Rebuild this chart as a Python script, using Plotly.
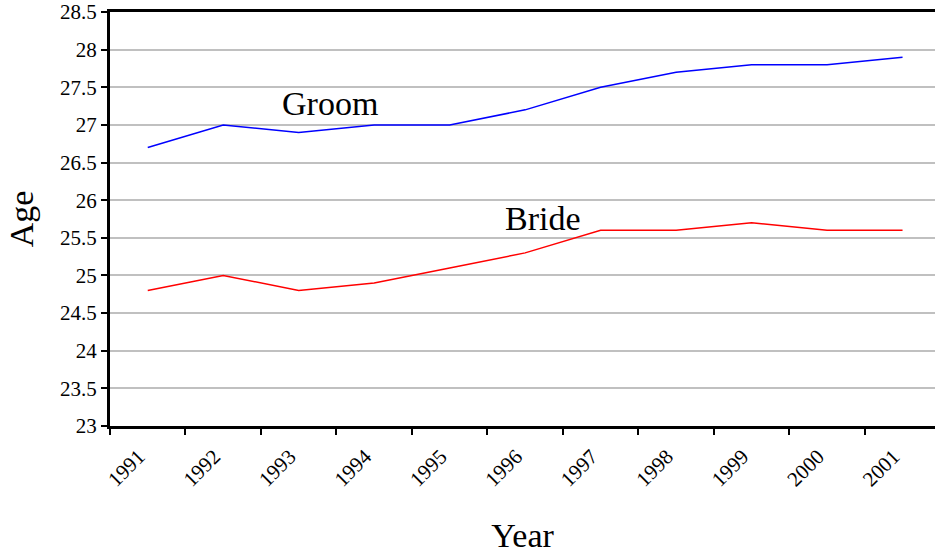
import plotly.graph_objects as go

years = ["1991", "1992", "1993", "1994", "1995", "1996",
         "1997", "1998", "1999", "2000", "2001"]
groom_age = [26.7, 27.0, 26.9, 27.0, 27.0, 27.2, 27.5, 27.7, 27.8, 27.8, 27.9]
bride_age = [24.8, 25.0, 24.8, 24.9, 25.1, 25.3, 25.6, 25.6, 25.7, 25.6, 25.6]

serif = "Liberation Serif"

fig = go.Figure()
fig.add_trace(go.Scatter(x=years, y=groom_age, mode="lines", name="Groom",
                         line=dict(color="#0000ff", width=1.5)))
fig.add_trace(go.Scatter(x=years, y=bride_age, mode="lines", name="Bride",
                         line=dict(color="#ff0000", width=1.5)))

# series labels sit inside the plot, as in the original
fig.add_annotation(x=2.41, y=27.28, text="Groom", showarrow=False,
                   font=dict(family=serif, size=34, color="black"))
fig.add_annotation(x=5.24, y=25.76, text="Bride", showarrow=False,
                   font=dict(family=serif, size=34, color="black"))

fig.update_layout(
    width=935,
    height=555,
    margin=dict(l=110, r=0, t=12, b=129),
    paper_bgcolor="white",
    plot_bgcolor="white",
    showlegend=False,
    font=dict(family=serif, color="black"),
    xaxis=dict(
        type="category",
        range=[-0.5, 10.43],
        automargin=False,
        tickson="boundaries",
        ticks="outside",
        ticklen=6,
        tickwidth=2,
        tickcolor="black",
        tickangle=-45,
        ticklabelshift=-9,
        ticklabelstandoff=7,
        tickfont=dict(family=serif, size=21, color="black"),
        showline=True,
        linecolor="black",
        linewidth=3,
        mirror=True,
        showgrid=False,
        title=dict(text="Year", font=dict(family=serif, size=34, color="black"),
                   standoff=33),
    ),
    yaxis=dict(
        range=[23, 28.5],
        dtick=0.5,
        tick0=23,
        automargin=False,
        ticks="outside",
        ticklen=6,
        tickwidth=2,
        tickcolor="black",
        tickfont=dict(family=serif, size=21, color="black"),
        showline=True,
        linecolor="black",
        linewidth=3,
        showgrid=True,
        gridcolor="#c0c0c0",
        gridwidth=1.5,
        zeroline=False,
        title=dict(text="Age", font=dict(family=serif, size=34, color="black"),
                   standoff=17),
    ),
)

# drop the browser's default 8px body margin so the figure sits at 0,0
fig.write_html("out.html", config={"displayModeBar": False},
               post_script="document.body.style.margin = '0';")
